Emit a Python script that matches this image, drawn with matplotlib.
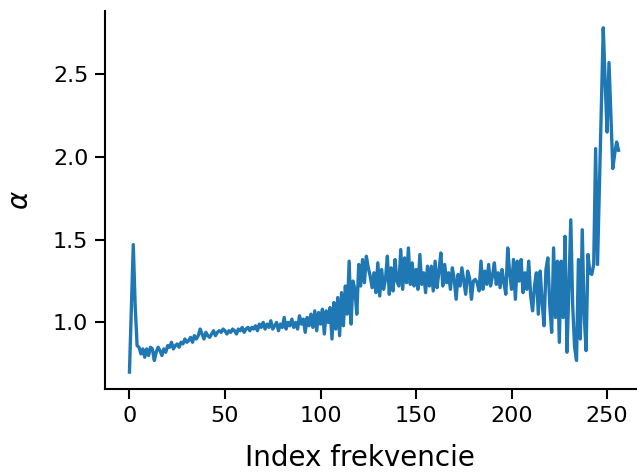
"""
Alpha per frequency index, line plot.
"""

import matplotlib
matplotlib.use("Agg")
import matplotlib.pyplot as plt
import numpy as np

# alpha values, index 0..256
alpha_low = [
    0.70, 1.08, 1.47, 1.10, 0.86, 0.85, 0.81, 0.84, 0.79, 0.84,
    0.80, 0.85, 0.84, 0.77, 0.82, 0.85, 0.83, 0.80, 0.84, 0.82,
    0.86, 0.85, 0.88, 0.84, 0.86, 0.87, 0.85, 0.88, 0.87, 0.90,
    0.88, 0.89, 0.91, 0.88, 0.92, 0.90, 0.92, 0.96, 0.93, 0.90,
    0.94, 0.92, 0.91, 0.93, 0.95, 0.92, 0.94, 0.95, 0.94, 0.96,
    0.95, 0.93, 0.95,
]
alpha_mid = [
    0.94, 0.96, 0.95, 0.93, 0.96, 0.95, 0.97, 0.94, 0.96, 0.97,
    0.95, 0.97, 0.96, 0.98, 0.95, 0.99, 0.97, 1.00, 0.96, 0.99,
    0.97, 1.01, 0.96, 0.98, 1.00, 0.95, 0.99, 0.97, 1.03, 0.96,
    1.00, 0.98, 1.02, 0.97, 1.00, 0.96, 1.04, 0.99, 1.02, 0.94,
    1.03, 0.98, 1.05, 0.97, 1.07, 0.95, 1.06, 0.99, 1.08, 0.93,
    1.07, 1.00, 1.09,
]
alpha_plateau = [
    0.90, 1.12, 0.96, 1.15, 0.92, 1.18, 0.98, 1.22, 1.05, 1.37,
    0.99, 1.25, 1.20, 1.05, 1.35, 1.22, 1.38, 1.24, 1.40, 1.33,
    1.28, 1.21, 1.30, 1.18, 1.36, 1.16, 1.32, 1.20, 1.26, 1.40,
    1.17, 1.33, 1.19, 1.38, 1.25, 1.22, 1.44, 1.20, 1.39, 1.24,
    1.45, 1.23, 1.36, 1.22, 1.32, 1.20, 1.41, 1.23, 1.30, 1.18,
    1.34, 1.22,
    1.34, 1.19, 1.37, 1.21, 1.31, 1.42, 1.22, 1.35, 1.24, 1.30,
    1.20, 1.33, 1.26, 1.14, 1.29, 1.22, 1.33, 1.25, 1.17, 1.31,
    1.27, 1.14, 1.25, 1.26, 1.24, 1.19, 1.37, 1.20, 1.31, 1.23,
    1.35, 1.22, 1.28, 1.36, 1.23, 1.30, 1.21, 1.32, 1.24, 1.17,
    1.45, 1.30, 1.20, 1.38, 1.14, 1.37, 1.25, 1.38, 1.18, 1.30,
    1.20, 1.37,
]
alpha_high = [
    1.16, 1.07, 1.22, 1.30, 1.05, 1.31, 1.12, 0.98, 1.32, 1.39,
    1.10, 0.94, 1.45, 1.03, 1.37, 0.88, 1.37, 1.03, 1.52, 0.82,
    1.20, 1.62, 1.10, 0.85, 0.77, 1.38, 0.90, 1.56, 1.05, 0.83,
    1.41, 1.30, 1.29, 1.35, 2.05, 1.35, 1.83, 2.30, 2.78, 2.45,
    2.15, 2.57, 2.25, 1.93, 2.02, 2.09, 2.04,
]

alpha = np.array(alpha_low + alpha_mid + alpha_plateau + alpha_high)
index = np.arange(len(alpha))

fig = plt.figure(figsize=(6.37, 4.73), dpi=100)
ax = fig.add_axes([105 / 637, 83.7 / 473, 538 / 637, 378.7 / 473])

ax.plot(index, alpha, color="#1f77b4", linewidth=2.4)

ax.set_xlabel("Index frekvencie", fontsize=20, labelpad=13)
ax.set_ylabel(r"$\alpha$", fontsize=20, labelpad=14)
ax.xaxis.label.set_x(0.474)
ax.set_xticks([0, 50, 100, 150, 200, 250])
ax.set_yticks([1.0, 1.5, 2.0, 2.5])
ax.tick_params(labelsize=16, length=7, width=1.5, pad=5)

for side in ["top", "right"]:
    ax.spines[side].set_visible(False)
for side in ["left", "bottom"]:
    ax.spines[side].set_linewidth(1.5)

fig.savefig("out.png", dpi=100)
